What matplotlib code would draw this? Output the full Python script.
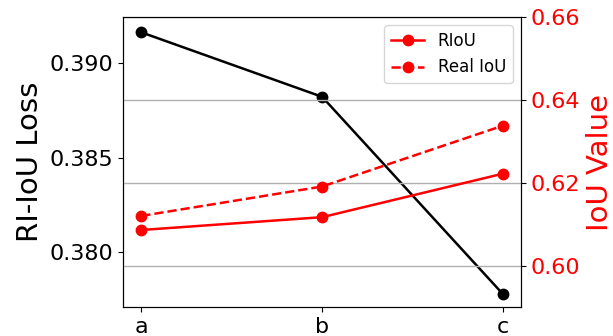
import matplotlib
matplotlib.use("Agg")
import matplotlib.pyplot as plt

# values
categories = ["a", "b", "c"]
ri_iou_loss = [0.3916, 0.3882, 0.3778]
riou = [0.6086, 0.6117, 0.6222]
real_iou = [0.6120, 0.6191, 0.6338]

fig = plt.figure(figsize=(6.13, 3.36), dpi=100)
ax1 = fig.add_axes([0.201, 0.085, 0.649, 0.864])
ax2 = ax1.twinx()

x = range(len(categories))
ax1.plot(x, ri_iou_loss, "o-", color="black", lw=1.8, ms=7.5)
ax1.set_ylim(0.3771, 0.3924)
ax1.set_yticks([0.380, 0.385, 0.390])
ax1.set_ylabel("RI-IoU Loss", fontsize=21)
ax1.set_xticks(list(x))
ax1.set_xticklabels(categories)
ax1.tick_params(labelsize=16)

ax2.plot(x, riou, "o-", color="red", lw=1.8, ms=7.5, label="RIoU")
ax2.plot(x, real_iou, "o--", color="red", lw=1.8, ms=7.5, label="Real IoU")
ax2.set_ylim(0.5899, 0.6595)
ax2.set_yticks([0.60, 0.62, 0.64, 0.66])
ax2.set_ylabel("IoU Value", fontsize=21, color="red")
ax2.tick_params(axis="y", labelsize=16, labelcolor="red")
ax2.grid(True, axis="y", color="#b0b0b0", lw=1)
ax2.legend(loc="upper right", fontsize=12)

plt.savefig("out.png", dpi=100)
